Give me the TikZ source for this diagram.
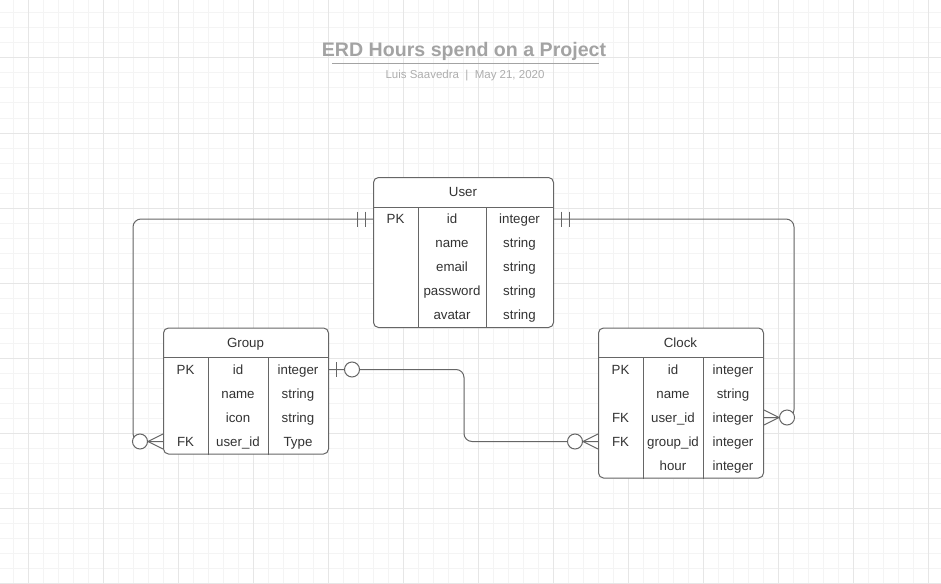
\documentclass[tikz,border=0pt]{standalone}
\usepackage{fontspec}
\setmainfont{Liberation Sans}
\usetikzlibrary{positioning}
\definecolor{gridmin}{HTML}{F4F4F4}
\definecolor{gridmaj}{HTML}{E6E6E6}
\colorlet{ln}{black!60}
\colorlet{txt}{black!80}
\colorlet{ttl}{black!36}

\begin{document}
\begin{tikzpicture}[x=1pt,y=-1pt,
        tbl/.style={draw=ln,fill=white,line width=1pt,rounded corners=5pt,inner sep=0pt,anchor=north west},
        cell/.style={font=\fontsize{13.3}{15}\selectfont,text=txt,inner sep=0pt,text height=10pt,text depth=1pt},
        rel/.style={draw=ln,line width=1pt,rounded corners=8pt},
        ring/.style={draw=ln,fill=white,line width=1pt,circle,minimum size=15pt,inner sep=0pt}
    ]
    \useasboundingbox (0,0) rectangle (941,583);
    \foreach \x in {13,28,...,941} \draw[gridmin,line width=1pt] (\x,0) -- (\x,583);
    \foreach \y in {13,28,...,583} \draw[gridmin,line width=1pt] (0,\y) -- (941,\y);
    \foreach \x in {28,103,...,941} \draw[gridmaj,line width=1pt] (\x,0) -- (\x,583);
    \foreach \y in {58,133,...,583} \draw[gridmaj,line width=1pt] (0,\y) -- (941,\y);

    \node[anchor=base,font=\bfseries\fontsize{19.6}{22}\selectfont,text=ttl] (title) at (464,57) {ERD Hours spend on a Project};
    \draw[ttl,line width=1.6pt] ([xshift=14pt,yshift=1pt]title.south west) -- ([xshift=-11pt,yshift=1pt]title.south east);
    \node[anchor=base,font=\fontsize{11.5}{13}\selectfont,text=black!32] (author) at (465,79) {Luis Saavedra\ \ |\ \ May 21, 2020};

    \node[tbl,minimum width=180pt,minimum height=150pt] (user) at (373,177) {};
    \node[cell] (user-h) at (463,192) {User};
    \draw[ln,line width=1pt] ([yshift=-30pt]user.north west) -- ([yshift=-30pt]user.north east);
    \draw[ln,line width=1pt] ([xshift=45pt,yshift=-30pt]user.north west) -- ([xshift=45pt]user.south west);
    \draw[ln,line width=1pt] ([xshift=113pt,yshift=-30pt]user.north west) -- ([xshift=113pt]user.south west);
    \foreach \k/\n/\t [count=\i] in {PK/id/integer,{}/name/string,{}/email/string,{}/password/string,{}/avatar/string}{
        \node[cell] (user-k\i) at (395.5,195+24*\i) {\k};
        \node[cell] (user-n\i) at (452,195+24*\i) {\n};
        \node[cell] (user-t\i) at (519.5,195+24*\i) {\t};
    }

    \node[tbl,minimum width=165pt,minimum height=126pt] (group) at (163,327.5) {};
    \node[cell] (group-h) at (245.5,342.5) {Group};
    \draw[ln,line width=1pt] ([yshift=-30pt]group.north west) -- ([yshift=-30pt]group.north east);
    \draw[ln,line width=1pt] ([xshift=45pt,yshift=-30pt]group.north west) -- ([xshift=45pt]group.south west);
    \draw[ln,line width=1pt] ([xshift=105pt,yshift=-30pt]group.north west) -- ([xshift=105pt]group.south west);
    \foreach \k/\n/\t [count=\i] in {PK/id/integer,{}/name/string,{}/icon/string,FK/user\_id/Type}{
        \node[cell] (group-k\i) at (185.5,345.5+24*\i) {\k};
        \node[cell] (group-n\i) at (238,345.5+24*\i) {\n};
        \node[cell] (group-t\i) at (298,345.5+24*\i) {\t};
    }

    \node[tbl,minimum width=165pt,minimum height=150pt] (clock) at (598,327.5) {};
    \node[cell] (clock-h) at (680.5,342.5) {Clock};
    \draw[ln,line width=1pt] ([yshift=-30pt]clock.north west) -- ([yshift=-30pt]clock.north east);
    \draw[ln,line width=1pt] ([xshift=45pt,yshift=-30pt]clock.north west) -- ([xshift=45pt]clock.south west);
    \draw[ln,line width=1pt] ([xshift=105pt,yshift=-30pt]clock.north west) -- ([xshift=105pt]clock.south west);
    \foreach \k/\n/\t [count=\i] in {PK/id/integer,{}/name/string,FK/user\_id/integer,FK/group\_id/integer,{}/hour/integer}{
        \node[cell] (clock-k\i) at (620.5,345.5+24*\i) {\k};
        \node[cell] (clock-n\i) at (673,345.5+24*\i) {\n};
        \node[cell] (clock-t\i) at (733,345.5+24*\i) {\t};
    }

    \coordinate (u1) at (user.west |- user-n1);
    \coordinate (u2) at (user.east |- user-n1);
    \coordinate (g1) at (group.east |- group-n1);
    \coordinate (g4) at (group.west |- group-n4);
    \coordinate (c3) at (clock.east |- clock-n3);
    \coordinate (c4) at (clock.west |- clock-n4);

    \draw[rel] (u1) -- ++(-240,0) |- (g4);
    \draw[ln,line width=1pt] ([xshift=-15.5pt,yshift=7.5pt]u1) -- ++(0,15);
    \draw[ln,line width=1pt] ([xshift=-7.5pt,yshift=7.5pt]u1) -- ++(0,15);
    \node[ring] (g4-o) at ([xshift=-23pt]g4) {};
    \draw[ln,line width=1pt] (g4-o.east) -- ([yshift=7.5pt]g4);
    \draw[ln,line width=1pt] (g4-o.east) -- ([yshift=-7.5pt]g4);

    \draw[rel] (u2) -- ++(240,0) |- (c3);
    \draw[ln,line width=1pt] ([xshift=7.5pt,yshift=7.5pt]u2) -- ++(0,15);
    \draw[ln,line width=1pt] ([xshift=15.5pt,yshift=7.5pt]u2) -- ++(0,15);
    \node[ring] (c3-o) at ([xshift=23pt]c3) {};
    \draw[ln,line width=1pt] (c3-o.west) -- ([yshift=7.5pt]c3);
    \draw[ln,line width=1pt] (c3-o.west) -- ([yshift=-7.5pt]c3);

    \draw[rel] (g1) -- ++(135,0) |- (c4);
    \draw[ln,line width=1pt] ([xshift=7.5pt,yshift=7.5pt]g1) -- ++(0,15);
    \node[ring] (g1-o) at ([xshift=23pt]g1) {};
    \node[ring] (c4-o) at ([xshift=-23pt]c4) {};
    \draw[ln,line width=1pt] (c4-o.east) -- ([yshift=7.5pt]c4);
    \draw[ln,line width=1pt] (c4-o.east) -- ([yshift=-7.5pt]c4);
\end{tikzpicture}
\end{document}
